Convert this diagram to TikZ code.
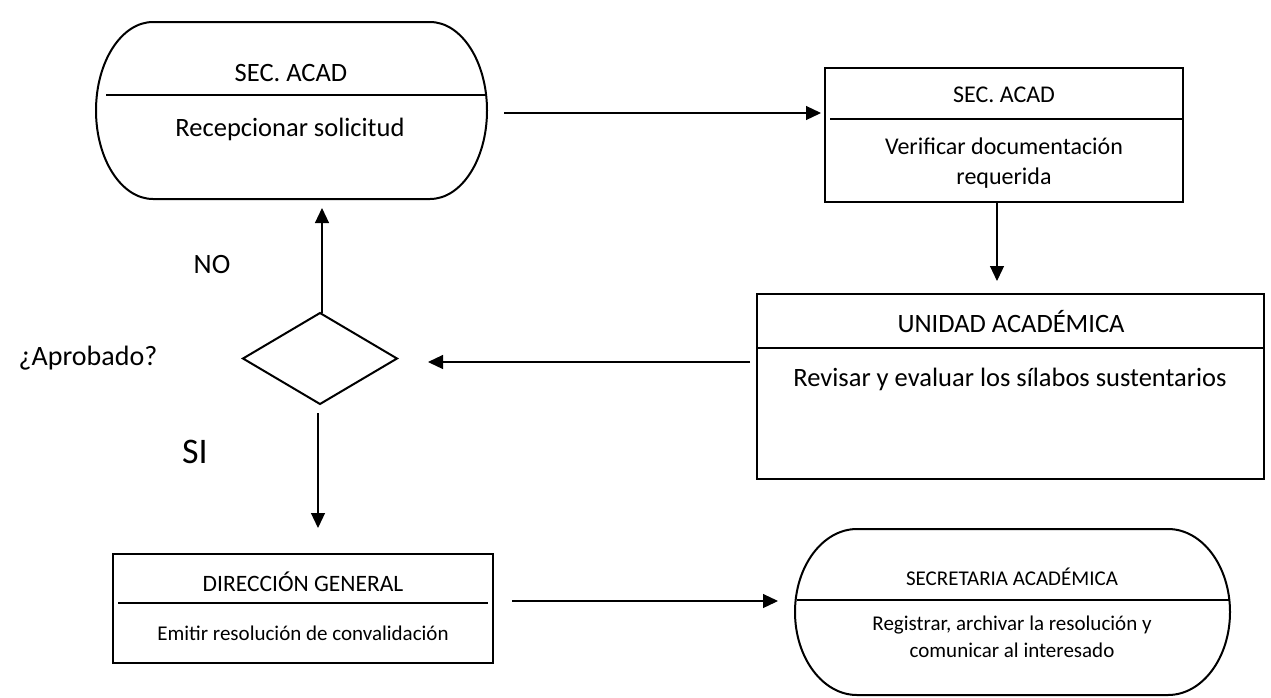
\documentclass[tikz,border=0pt]{standalone}
\usepackage{fontspec}
\setmainfont{Carlito}
\usetikzlibrary{arrows.meta,calc}
\begin{document}
\begin{tikzpicture}[x=1pt,y=-1pt,
  frame/.style={inner sep=0pt, outer sep=0pt},
  boxline/.style={draw, line width=2.2pt},
  outline/.style={line width=2pt, line join=round},
  divider/.style={line width=1.4pt},
  arr/.style={line width=1.2pt, -{Triangle[length=15pt,width=14pt]}},
  txt/.style={inner sep=0pt, align=center},
  fA/.style={font=\fontsize{26.5}{32}\selectfont},
  fB/.style={font=\fontsize{24}{30}\selectfont},
  fC/.style={font=\fontsize{23.5}{28}\selectfont},
  fD/.style={font=\fontsize{21}{27}\selectfont},
  fL/.style={font=\fontsize{28}{34}\selectfont},
  fS/.style={font=\fontsize{36}{42}\selectfont}
]
\useasboundingbox (0,0) rectangle (1271,697);

% Terminal 1
\node[frame, minimum width=391pt, minimum height=177pt] (t1) at (291.5,110.5) {};
\draw[outline] ($(t1.north west)+(57,0)$) -- ($(t1.north east)+(-57,0)$)
  arc[start angle=90,end angle=-90,x radius=57pt,y radius=88.5pt]
  -- ($(t1.south west)+(57,0)$)
  arc[start angle=270,end angle=90,x radius=57pt,y radius=88.5pt] -- cycle;
\draw[divider] (106,95) -- (487,95);
\node[txt, fA] (t1a) at (291,73) {SEC. ACAD};
\node[txt, fA] (t1b) at (290,129) {Recepcionar solicitud};

% Box 2
\node[frame, boxline, minimum width=358pt, minimum height=134pt] (b2) at (1004,135) {};
\draw[divider] (830,119) -- (1183,119);
\node[txt, fB] (b2a) at (1004,95) {SEC. ACAD};
\node[txt, fB] (b2b) at (1004,163) {Verificar documentación\\requerida};

% Box 3
\node[frame, boxline, minimum width=507pt, minimum height=185pt] (b3) at (1010.5,386.5) {};
\draw[divider] (757,348) -- (1264,348);
\node[txt, fA] (b3a) at (1011,322) {UNIDAD ACADÉMICA};
\node[txt, fA] (b3b) at (1010,379) {Revisar y evaluar los sílabos sustentarios};

% Diamond
\node[frame, minimum width=154pt, minimum height=91pt] (d) at (320,358.5) {};
\draw[outline, line join=miter] (d.north) -- (d.east) -- (d.south) -- (d.west) -- cycle;

% Box 4
\node[frame, boxline, minimum width=380pt, minimum height=109pt] (b4) at (303,608.5) {};
\draw[divider] (118,603) -- (488,603);
\node[txt, fC] (b4a) at (303,582) {DIRECCIÓN GENERAL};
\node[txt, fD] (b4b) at (303,633) {Emitir resolución de convalidación};

% Terminal 2
\node[frame, minimum width=435pt, minimum height=166pt] (t2) at (1012.5,612) {};
\draw[outline] ($(t2.north west)+(62,0)$) -- ($(t2.north east)+(-62,0)$)
  arc[start angle=90,end angle=-90,x radius=62pt,y radius=83pt]
  -- ($(t2.south west)+(62,0)$)
  arc[start angle=270,end angle=90,x radius=62pt,y radius=83pt] -- cycle;
\draw[divider] (797,600) -- (1229,600);
\node[txt, fD] (t2a) at (1012,577) {SECRETARIA ACADÉMICA};
\node[txt, fD] (t2b) at (1012,636.5) {Registrar, archivar la resolución y\\comunicar al interesado};

% Labels
\node[txt, fL] (no) at (212,265) {NO};
\node[txt, fL] (apr) at (88,358) {¿Aprobado?};
\node[txt, fS] (si) at (195,452) {SI};

% Connectors
\draw[arr] ($(t1.east)+(17,2.5)$) -- ($(b2.west |- t1.east)+(-4,2.5)$);
\draw[arr] ($(b2.south)+(-7,0)$) -- ($(b2.south |- b3.north)+(-7,-13)$);
\draw[arr] ($(b3.west)+(-7,-24.5)$) -- ($(d.east |- b3.west)+(31,-24.5)$);
\draw[arr] ($(d.north)+(2,0)$) -- ($(d.north |- t1.south)+(2,9)$);
\draw[arr] ($(d.south)+(-2,9)$) -- ($(d.south |- b4.north)+(-2,-26)$);
\draw[arr] ($(b4.east)+(19,-7.5)$) -- ($(t2.west |- b4.east)+(-17,-7.5)$);
\end{tikzpicture}
\end{document}
